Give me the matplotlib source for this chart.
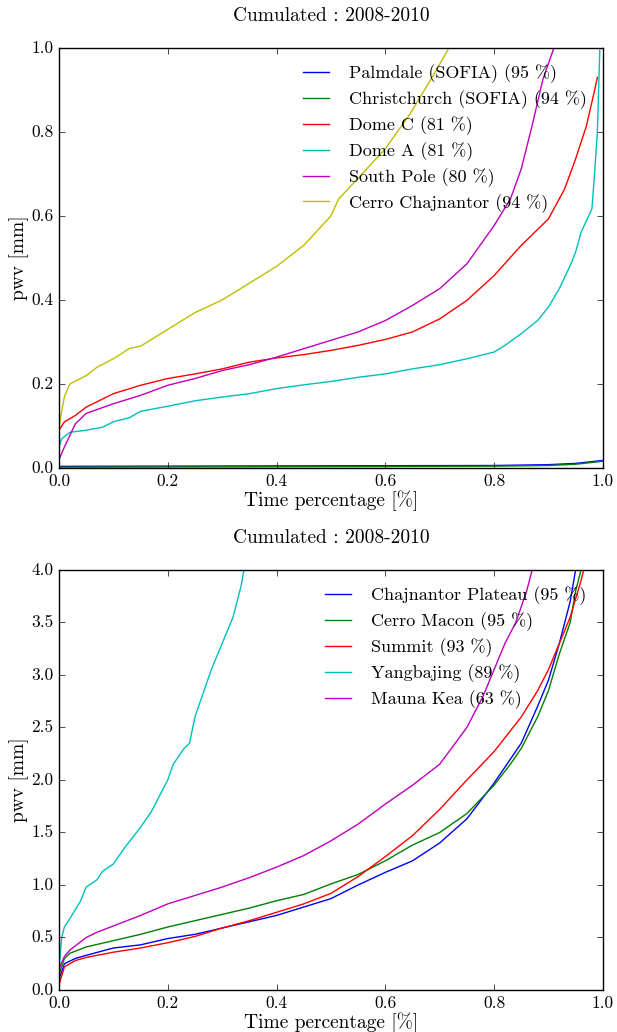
import matplotlib
matplotlib.use("Agg")
import matplotlib.pyplot as plt

plt.style.use('classic')
plt.rcParams['font.family'] = ['cmr10', 'DejaVu Serif']
plt.rcParams['axes.formatter.use_mathtext'] = True
plt.rcParams['mathtext.fontset'] = 'cm'

# ---- top panel data ----
pal_x = [0.0, 0.2, 0.4, 0.6, 0.8, 0.9, 0.95, 1.0]
pal_y = [0.004, 0.0045, 0.005, 0.0055, 0.006, 0.008, 0.011, 0.018]
chr_x = [0.0, 0.2, 0.4, 0.6, 0.8, 0.9, 0.95, 1.0]
chr_y = [0.002, 0.0025, 0.003, 0.0035, 0.0045, 0.006, 0.009, 0.016]
domc_x = [0.0, 0.01, 0.03, 0.05, 0.1, 0.15, 0.2, 0.25, 0.3, 0.35, 0.4, 0.45, 0.5, 0.55,
          0.6, 0.65, 0.7, 0.75, 0.8, 0.85, 0.9, 0.93, 0.95, 0.97, 0.985, 0.99]
domc_y = [0.09, 0.11, 0.125, 0.145, 0.177, 0.197, 0.213, 0.224, 0.236, 0.252, 0.262, 0.27,
          0.28, 0.292, 0.306, 0.324, 0.355, 0.399, 0.458, 0.53, 0.593, 0.665, 0.736, 0.815,
          0.9, 0.93]
doma_x = [0.0, 0.005, 0.02, 0.05, 0.08, 0.1, 0.13, 0.15, 0.2, 0.25, 0.3, 0.35, 0.4, 0.45,
          0.5, 0.55, 0.6, 0.65, 0.7, 0.75, 0.8, 0.82, 0.85, 0.88, 0.9, 0.92, 0.94, 0.95,
          0.96, 0.97, 0.98, 0.985, 0.99, 0.995]
doma_y = [0.05, 0.07, 0.085, 0.09, 0.097, 0.11, 0.12, 0.135, 0.147, 0.16, 0.169, 0.177,
          0.189, 0.198, 0.206, 0.216, 0.224, 0.236, 0.246, 0.26, 0.276, 0.292, 0.32, 0.351,
          0.383, 0.427, 0.482, 0.514, 0.561, 0.589, 0.617, 0.704, 0.8, 1.02]
sp_x = [0.0, 0.01, 0.03, 0.05, 0.1, 0.15, 0.2, 0.25, 0.3, 0.35, 0.4, 0.45, 0.5, 0.55, 0.6,
        0.65, 0.7, 0.75, 0.8, 0.83, 0.85, 0.87, 0.89, 0.91]
sp_y = [0.02, 0.05, 0.105, 0.13, 0.153, 0.173, 0.197, 0.213, 0.232, 0.246, 0.264, 0.284,
        0.304, 0.324, 0.351, 0.387, 0.427, 0.486, 0.577, 0.64, 0.712, 0.815, 0.926, 1.0]
cc_x = [0.0, 0.01, 0.02, 0.05, 0.07, 0.1, 0.13, 0.15, 0.2, 0.25, 0.3, 0.35, 0.4, 0.45, 0.5,
        0.514, 0.55, 0.6, 0.644, 0.688, 0.717]
cc_y = [0.1, 0.17, 0.2, 0.22, 0.24, 0.26, 0.285, 0.29, 0.33, 0.37, 0.40, 0.44, 0.48, 0.53,
        0.60, 0.64, 0.69, 0.76, 0.84, 0.934, 1.0]

top_series = [
    (pal_x, pal_y, 'b', 'Palmdale (SOFIA) (95 %)'),
    (chr_x, chr_y, 'g', 'Christchurch (SOFIA) (94 %)'),
    (domc_x, domc_y, 'r', 'Dome C (81 %)'),
    (doma_x, doma_y, 'c', 'Dome A (81 %)'),
    (sp_x, sp_y, 'm', 'South Pole (80 %)'),
    (cc_x, cc_y, 'y', 'Cerro Chajnantor (94 %)'),
]

# ---- bottom panel data ----
cp_x = [0.0, 0.01, 0.03, 0.05, 0.1, 0.15, 0.2, 0.25, 0.3, 0.35, 0.4, 0.45, 0.5, 0.55, 0.6,
        0.65, 0.7, 0.75, 0.8, 0.85, 0.88, 0.9, 0.92, 0.94, 0.95]
cp_y = [0.1, 0.25, 0.3, 0.33, 0.4, 0.43, 0.49, 0.53, 0.59, 0.65, 0.71, 0.79, 0.87, 1.0, 1.12,
        1.23, 1.4, 1.63, 1.97, 2.35, 2.7, 2.95, 3.3, 3.7, 4.0]
cm_x = [0.0, 0.01, 0.02, 0.05, 0.1, 0.15, 0.2, 0.25, 0.3, 0.35, 0.4, 0.45, 0.5, 0.55, 0.6,
        0.65, 0.7, 0.75, 0.8, 0.83, 0.85, 0.88, 0.9, 0.92, 0.94, 0.95, 0.96]
cm_y = [0.15, 0.3, 0.35, 0.41, 0.47, 0.53, 0.6, 0.66, 0.72, 0.78, 0.85, 0.91, 1.01, 1.1, 1.23,
        1.38, 1.5, 1.68, 1.95, 2.15, 2.3, 2.6, 2.85, 3.2, 3.5, 3.8, 4.0]
su_x = [0.0, 0.01, 0.03, 0.05, 0.1, 0.15, 0.2, 0.25, 0.3, 0.35, 0.4, 0.45, 0.5, 0.55, 0.6,
        0.65, 0.7, 0.75, 0.8, 0.85, 0.88, 0.9, 0.92, 0.94, 0.96, 0.965]
su_y = [0.05, 0.22, 0.28, 0.31, 0.36, 0.4, 0.45, 0.51, 0.59, 0.66, 0.74, 0.82, 0.92, 1.08,
        1.27, 1.47, 1.72, 2.0, 2.27, 2.6, 2.85, 3.05, 3.3, 3.55, 3.9, 4.0]
yb_x = [0.0, 0.005, 0.01, 0.02, 0.04, 0.05, 0.07, 0.08, 0.1, 0.12, 0.15, 0.17, 0.18, 0.2,
        0.21, 0.23, 0.24, 0.25, 0.26, 0.27, 0.28, 0.3, 0.32, 0.33, 0.335, 0.34]
yb_y = [0.2, 0.5, 0.6, 0.68, 0.85, 0.98, 1.05, 1.13, 1.2, 1.35, 1.55, 1.7, 1.8, 2.0, 2.15,
        2.3, 2.35, 2.6, 2.75, 2.9, 3.05, 3.3, 3.55, 3.75, 3.85, 4.0]
mk_x = [0.0, 0.01, 0.02, 0.05, 0.07, 0.1, 0.15, 0.2, 0.25, 0.3, 0.35, 0.4, 0.45, 0.5, 0.55,
        0.6, 0.65, 0.7, 0.75, 0.78, 0.8, 0.82, 0.84, 0.86, 0.87]
mk_y = [0.2, 0.32, 0.38, 0.5, 0.55, 0.61, 0.71, 0.82, 0.9, 0.98, 1.07, 1.17, 1.28, 1.42, 1.58,
        1.77, 1.95, 2.15, 2.5, 2.8, 3.05, 3.3, 3.5, 3.8, 4.0]

bottom_series = [
    (cp_x, cp_y, 'b', 'Chajnantor Plateau (95 %)'),
    (cm_x, cm_y, 'g', 'Cerro Macon (95 %)'),
    (su_x, su_y, 'r', 'Summit (93 %)'),
    (yb_x, yb_y, 'c', 'Yangbajing (89 %)'),
    (mk_x, mk_y, 'm', 'Mauna Kea (63 %)'),
]

fig = plt.figure(figsize=(6.17, 10.32), dpi=100, facecolor='white')
ax1 = fig.add_axes([0.0956, 0.5465, 0.8814, 0.407])
ax2 = fig.add_axes([0.0956, 0.0407, 0.8814, 0.407])

for ax, series, ymax, yticks in [(ax1, top_series, 1.0, [0, 0.2, 0.4, 0.6, 0.8, 1.0]),
                                 (ax2, bottom_series, 4.0, [0, 0.5, 1, 1.5, 2, 2.5, 3, 3.5, 4])]:
    for xs, ys, c, lab in series:
        ax.plot(xs, ys, color=c, label=lab, lw=1)
    ax.set_xlim(0, 1)
    ax.set_ylim(0, ymax)
    ax.set_yticks(yticks)
    ax.set_xticks([0, 0.2, 0.4, 0.6, 0.8, 1.0])
    ax.set_xticklabels(['0.0', '0.2', '0.4', '0.6', '0.8', '1.0'])
    ax.set_yticklabels(['%.1f' % t for t in yticks])
    ax.set_title('Cumulated : 2008-2010', fontsize=14, y=1.047)
    ax.set_xlabel('Time percentage [%]', fontsize=14, labelpad=1)
    ax.set_ylabel('pwv [mm]', fontsize=14, labelpad=1.5)
    ax.tick_params(labelsize=12.5)
    ax.legend(loc='upper right', bbox_to_anchor=(1.0, 1.0), frameon=False, fontsize=13,
              numpoints=1, handlelength=1.45, handletextpad=1.1, labelspacing=0.4)

fig.savefig('out.png', dpi=100, facecolor='white')
